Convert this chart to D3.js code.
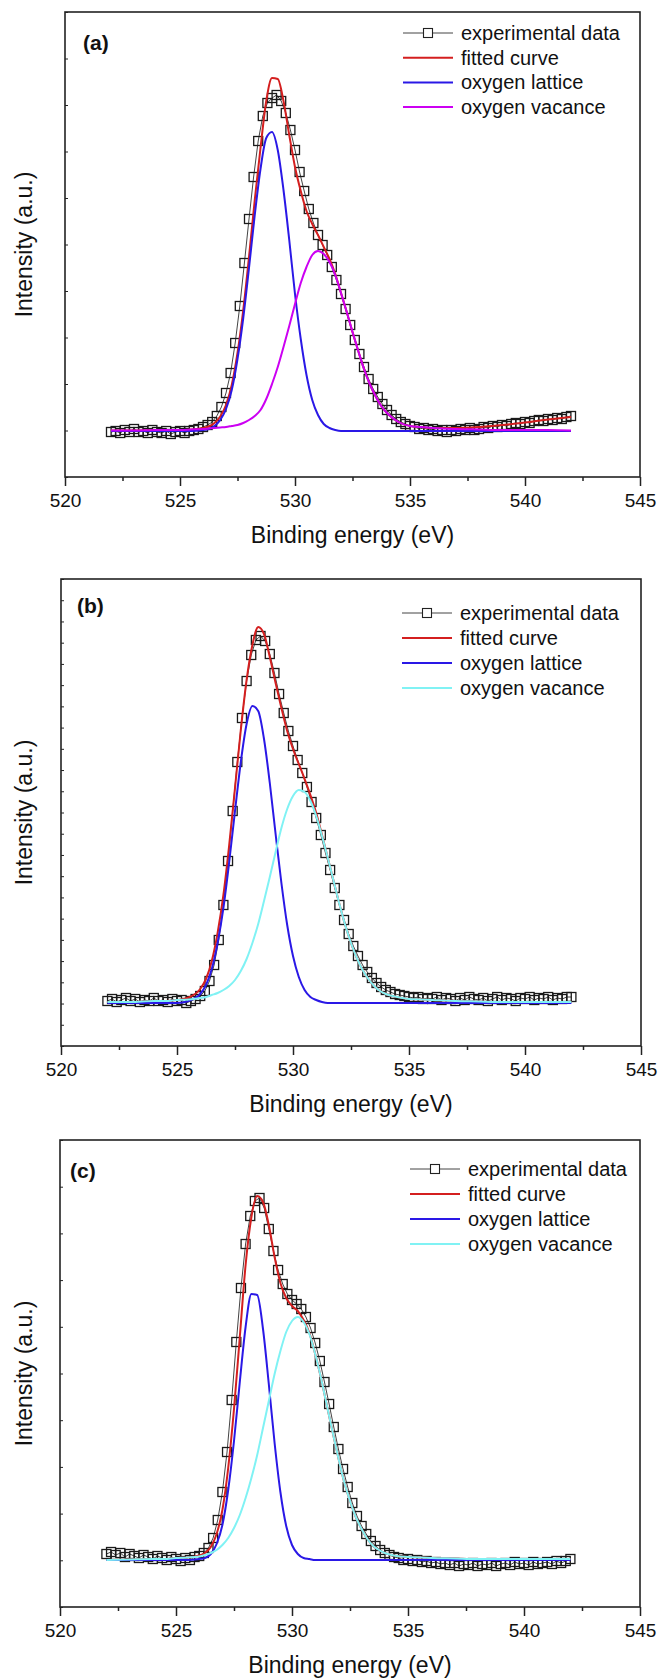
<!DOCTYPE html>
<html>
<head>
<meta charset="utf-8">
<script src="https://cdn.jsdelivr.net/npm/d3@7"></script>
<style>
  body { margin: 0; background: #fff; }
  text { font-family: "Liberation Sans", Arial, sans-serif; fill: #111; }
</style>
</head>
<body>
<div id="chart"></div>
<script>
// Binding energy grid of the measured spectra (eV)
const energy = [
  522.0, 522.2, 522.4, 522.6, 522.8, 523.0, 523.2, 523.4, 523.6, 523.8, 524.0, 524.2, 524.4, 524.6, 524.8, 525.0, 525.2, 525.4, 525.6, 525.8,
  526.0, 526.2, 526.4, 526.6, 526.8, 527.0, 527.2, 527.4, 527.6, 527.8, 528.0, 528.2, 528.4, 528.6, 528.8, 529.0, 529.2, 529.4, 529.6, 529.8,
  530.0, 530.2, 530.4, 530.6, 530.8, 531.0, 531.2, 531.4, 531.6, 531.8, 532.0, 532.2, 532.4, 532.6, 532.8, 533.0, 533.2, 533.4, 533.6, 533.8,
  534.0, 534.2, 534.4, 534.6, 534.8, 535.0, 535.2, 535.4, 535.6, 535.8, 536.0, 536.2, 536.4, 536.6, 536.8, 537.0, 537.2, 537.4, 537.6, 537.8,
  538.0, 538.2, 538.4, 538.6, 538.8, 539.0, 539.2, 539.4, 539.6, 539.8, 540.0, 540.2, 540.4, 540.6, 540.8, 541.0, 541.2, 541.4, 541.6, 541.8,
  542.0
];

// Experimental intensities (a.u.)
const expA = [
  -1, 0, -2, 1, -1, 2, -1, 0, -2, 1, -1, -2, 0, -3, -1, 0, -2, 0, 1, 2,
  4, 6, 9, 15, 24, 38, 58, 88, 125, 168, 212, 254, 290, 315, 328, 333, 336, 330, 318, 301,
  281, 259, 240, 222, 208, 196, 186, 176, 164, 151, 137, 122, 106, 91, 77, 64, 52, 42, 34, 27,
  21, 16, 12, 9, 7, 5, 4, 2, 3, 1, 2, 0, 1, -1, 1, 0, 2, 1, 3, 1,
  2, 4, 3, 5, 4, 6, 5, 7, 8, 7, 9, 8, 10, 11, 10, 12, 11, 13, 12, 14,
  15
];
const expB = [
  2, 4, 1, 3, 5, 2, 4, 1, 3, 2, 5, 2, 3, 1, 4, 2, 3, 0, 2, 4,
  7, 12, 22, 38, 63, 98, 142, 192, 241, 285, 322, 348, 363, 367, 362, 349, 330, 309, 290, 272,
  257, 243, 230, 216, 201, 185, 168, 150, 133, 115, 98, 83, 69, 57, 47, 38, 31, 25, 20, 16,
  13, 11, 9, 8, 7, 6, 5, 6, 4, 5, 4, 6, 3, 5, 4, 2, 5, 3, 6, 4,
  3, 5, 2, 4, 6, 3, 5, 4, 2, 5, 4, 6, 3, 5, 4, 6, 3, 5, 4, 6,
  6
];
const expC = [
  6, 8, 5, 7, 3, 6, 4, 2, 5, 3, 1, 4, 2, 0, 3, 1, -1, 2, 0, 3,
  4, 7, 12, 22, 40, 68, 108, 160, 218, 272, 316, 344, 359, 362, 352, 331, 309, 290, 276, 266,
  260, 256, 251, 243, 232, 217, 199, 178, 156, 133, 111, 91, 73, 57, 44, 34, 26, 19, 14, 10,
  7, 5, 3, 2, 0, 1, -1, 0, -2, -1, -3, -2, -4, -3, -5, -3, -6, -4, -5, -3,
  -6, -4, -5, -3, -6, -4, -3, -5, -2, -4, -3, -5, -2, -4, -3, -2, -4, -1, -3, -1,
  1
];

// Energy grid of the fitted curves (eV)
const fitEnergy = [
  522, 523, 524, 524.5, 525, 525.5,
  526, 526.25, 526.5, 526.75, 527, 527.25, 527.5, 527.75, 528, 528.25, 528.5, 528.75, 529, 529.25, 529.5, 529.75,
  530, 530.25, 530.5, 530.75, 531, 531.25, 531.5, 531.75, 532, 532.25, 532.5, 532.75, 533, 533.25, 533.5, 533.75, 534,
  534.5, 535, 535.5, 536, 537, 538, 539, 540, 541, 542
];

// Panel (a)
const fittedA = [
  0.5, 0.5, 1, 1, 1, 1.5,
  3, 4.5, 8, 14.5, 26, 46, 78, 121, 174, 231, 283, 330, 353, 352, 330, 296,
  264, 240, 220, 207, 196, 184, 172, 157, 138, 119, 99, 80, 62, 47, 35, 25, 18,
  9, 5, 4, 3, 3, 4, 6, 8.5, 11.5, 14
];
const latticeA = [
  0, 0, 0, 0, 0, 0,
  1, 2, 5, 11, 22, 41, 72, 113, 163, 216, 262, 293, 299, 281, 241, 191,
  137, 92, 56, 31, 16, 7, 3, 1, 0, 0, 0, 0, 0, 0, 0, 0, 0,
  0, 0, 0, 0, 0, 0, 0, 0, 0, 0
];
const vacanceA = [
  0.5, 0.5, 1, 1, 1, 1.5,
  2, 2.5, 3, 3.5, 4, 5, 6, 8, 11, 15, 21, 32, 47, 64, 84, 105,
  127, 148, 164, 176, 180, 177, 169, 156, 138, 119, 99, 80, 62, 47, 35, 25, 18,
  9, 5, 4, 3, 2, 1.5, 1, 1, 1, 0.5
];

// Panel (b)
const fittedB = [
  1, 1, 2, 2, 3, 5.5,
  14, 24, 42, 70, 108, 158, 215, 273, 323, 358, 376, 369, 346, 320, 295, 272,
  254, 239, 224, 208, 190, 168, 145, 122, 99, 78, 60, 45, 33, 24, 17, 12, 9,
  6, 4, 3.5, 3, 2, 1.5, 1, 1, 1, 1
];
const latticeB = [
  0, 0, 0, 0, 0, 2,
  9, 18, 34, 60, 95, 141, 192, 241, 279, 297, 292, 264, 220, 169, 120, 78,
  47, 26, 13, 6, 3, 1, 0, 0, 0, 0, 0, 0, 0, 0, 0, 0, 0,
  0, 0, 0, 0, 0, 0, 0, 0, 0, 0
];
const vacanceB = [
  1, 1, 2, 2, 3, 3.5,
  5, 6, 8, 10, 13, 17, 23, 32, 44, 60, 79, 102, 126, 151, 175, 194,
  207, 213, 211, 202, 187, 167, 145, 122, 99, 78, 60, 45, 33, 24, 17, 12, 9,
  6, 4, 3.5, 3, 2, 1.5, 1, 1, 1, 1
];

// Panel (c)
const fittedC = [
  0, 0.5, 1, 1, 2, 2.5,
  4.5, 7, 13, 26, 50, 92, 151, 223, 295, 343, 364, 358, 335, 303, 277, 262,
  254, 249, 240, 227, 206, 182, 155, 128, 102, 78, 59, 43, 31, 21, 14, 10, 7,
  4, 3, 2.5, 2, 1.5, 1, 1, 1, 1, 1
];
const latticeC = [
  0, 0, 0, 0, 0, 0,
  1, 2, 6, 16, 35, 70, 119, 178, 233, 266, 265, 231, 176, 117, 68, 34,
  15, 6, 2, 1, 0, 0, 0, 0, 0, 0, 0, 0, 0, 0, 0, 0, 0,
  0, 0, 0, 0, 0, 0, 0, 0, 0, 0
];
const vacanceC = [
  0, 0.5, 1, 1, 2, 2.5,
  3.5, 5, 7, 10, 15, 22, 32, 45, 62, 82, 105, 132, 159, 186, 209, 228,
  239, 243, 238, 226, 206, 182, 155, 128, 102, 78, 59, 43, 31, 21, 14, 10, 7,
  4, 3, 2.5, 2, 1.5, 1, 1, 1, 1, 1
];

// Axis ticks and labels
const xMajorTicks = [520, 525, 530, 535, 540, 545];
const xMinorTicks = [522.5, 527.5, 532.5, 537.5, 542.5];
const legendLabels = ["experimental data", "fitted curve", "oxygen lattice", "oxygen vacance"];
const panelLabels = ["(a)", "(b)", "(c)"];

const colors = { exp: "#444", fit: "#d41f1f", lattice: "#2a18e6" };

// Layout of each panel (pixels) and its series
const panels = [
  { label: panelLabels[0], exp: expA, fit: fittedA, lat: latticeA, vac: vacanceA, vacColor: "#cc00f2",
    top: 12, bottom: 477, left: 65, right: 640, yDomain: [-46, 419], yTickCount: 10,
    legX: 403, legY: 33, legStep: 24.7, labX: 83, labY: 50 },
  { label: panelLabels[1], exp: expB, fit: fittedB, lat: latticeB, vac: vacanceB, vacColor: "#80f2f4",
    top: 579, bottom: 1046, left: 61, right: 641, yDomain: [-43, 424], yTickCount: 22,
    legX: 402, legY: 613, legStep: 25, labX: 77, labY: 613 },
  { label: panelLabels[2], exp: expC, fit: fittedC, lat: latticeC, vac: vacanceC, vacColor: "#80f2f4",
    top: 1140, bottom: 1607, left: 60, right: 640, yDomain: [-47, 420], yTickCount: 10,
    legX: 410, legY: 1169, legStep: 25, labX: 70, labY: 1178 }
];

const width = 659, height = 1680;
const sq = 9; // marker size

const svg = d3.select("#chart")
    .append("svg")
    .attr("width", width)
    .attr("height", height);

function drawPanel(p)
{
    const g = svg.append("g");

    const x = d3.scaleLinear().domain([520, 545]).range([p.left, p.right]);
    const y = d3.scaleLinear().domain(p.yDomain).range([p.bottom, p.top]);

    // minor ticks on the left axis, pointing inside
    const step = (p.yDomain[1] - p.yDomain[0]) / p.yTickCount;
    const yTicks = d3.range(p.yTickCount + 1).map(i => p.yDomain[0] + i * step);
    g.append("g")
        .attr("transform", `translate(${p.left},0)`)
        .call(d3.axisLeft(y).tickValues(yTicks).tickSize(-3).tickFormat(""))
        .call(a => a.select(".domain").remove())
        .selectAll("line").attr("stroke", "#222").attr("stroke-width", 1);

    // x axis: major + minor ticks
    g.append("g")
        .attr("transform", `translate(0,${p.bottom})`)
        .call(d3.axisBottom(x).tickValues(xMinorTicks.filter(t => t < 545)).tickSize(4).tickFormat(""))
        .call(a => a.select(".domain").remove())
        .selectAll("line").attr("stroke", "#222").attr("stroke-width", 1.5);

    const xAxis = g.append("g")
        .attr("transform", `translate(0,${p.bottom})`)
        .call(d3.axisBottom(x).tickValues(xMajorTicks).tickSize(9).tickPadding(5).tickFormat(d3.format("d")));
    xAxis.select(".domain").remove();
    xAxis.selectAll("line").attr("stroke", "#222").attr("stroke-width", 1.5);
    xAxis.selectAll("text")
        .attr("y", 30).attr("dy", null)
        .style("font-size", "19px")
        .style("font-family", '"Liberation Sans", Arial, sans-serif')
        .attr("fill", "#111");

    // frame
    g.append("rect")
        .attr("x", p.left).attr("y", p.top)
        .attr("width", p.right - p.left).attr("height", p.bottom - p.top)
        .attr("fill", "none").attr("stroke", "#222").attr("stroke-width", 1.6);

    // experimental data: thin line + open squares
    const expPts = energy.map((e, i) => [e, p.exp[i]]);
    g.append("path")
        .datum(expPts)
        .attr("fill", "none").attr("stroke", colors.exp).attr("stroke-width", 1)
        .attr("d", d3.line().x(d => x(d[0])).y(d => y(d[1])));
    g.selectAll(".sq")
        .data(expPts)
        .enter().append("rect")
        .attr("x", d => x(d[0]) - sq / 2).attr("y", d => y(d[1]) - sq / 2)
        .attr("width", sq).attr("height", sq)
        .attr("fill", "none").attr("stroke", "#1a1a1a").attr("stroke-width", 1.3);

    // fitted curves
    const curve = d3.line().x(d => x(d[0])).y(d => y(d[1])).curve(d3.curveMonotoneX);
    [[p.fit, colors.fit], [p.lat, colors.lattice], [p.vac, p.vacColor]].forEach(([vals, col]) => {
        g.append("path")
            .datum(fitEnergy.map((e, i) => [e, vals[i]]))
            .attr("fill", "none").attr("stroke", col).attr("stroke-width", 2)
            .attr("d", curve);
    });

    // legend
    const legColors = [colors.exp, colors.fit, colors.lattice, p.vacColor];
    legendLabels.forEach((lab, i) => {
        const cy = p.legY + i * p.legStep;
        g.append("line")
            .attr("x1", p.legX).attr("x2", p.legX + 50)
            .attr("y1", cy).attr("y2", cy)
            .attr("stroke", legColors[i]).attr("stroke-width", i === 0 ? 1 : 2);
        if (i === 0) {
            g.append("rect")
                .attr("x", p.legX + 25 - sq / 2).attr("y", cy - sq / 2)
                .attr("width", sq).attr("height", sq)
                .attr("fill", "#fff").attr("stroke", "#222").attr("stroke-width", 1.1);
        }
        g.append("text")
            .attr("x", p.legX + 58).attr("y", cy + 7)
            .style("font-size", "20px")
            .text(lab);
    });

    // panel label
    g.append("text")
        .attr("x", p.labX).attr("y", p.labY)
        .style("font-size", "21px").style("font-weight", "bold")
        .text(p.label);

    // axis titles
    g.append("text")
        .attr("x", (p.left + p.right) / 2).attr("y", p.bottom + 66)
        .attr("text-anchor", "middle")
        .style("font-size", "23px")
        .text("Binding energy (eV)");

    g.append("text")
        .attr("transform", `translate(32,${(p.top + p.bottom) / 2}) rotate(-90)`)
        .attr("text-anchor", "middle")
        .style("font-size", "23px")
        .text("Intensity (a.u.)");
}

panels.forEach(drawPanel);
</script>
</body>
</html>
